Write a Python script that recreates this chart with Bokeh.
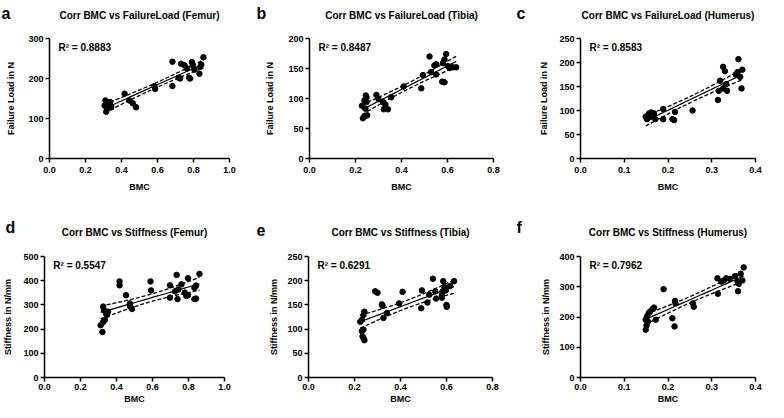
import numpy as np
from bokeh.plotting import figure
from bokeh.layouts import row, column
from bokeh.models import Range1d, FixedTicker, PrintfTickFormatter, Label, Title, LinearAxis
from bokeh.embed import file_html
from bokeh.resources import INLINE

FONT = "Liberation Sans"

# ---------------- data ----------------
femur_load_bmc = [0.306, 0.311, 0.315, 0.324, 0.330, 0.337, 0.343, 0.320, 0.417, 0.444, 0.463,
                  0.481, 0.583, 0.587, 0.683, 0.683, 0.717, 0.726, 0.731, 0.750, 0.763, 0.776,
                  0.781, 0.791, 0.796, 0.833, 0.837, 0.843, 0.855, 0.805]
femur_load = [132, 145, 117, 139, 128, 141, 128, 124, 162, 145, 138,
              128, 181, 174, 242, 181, 202, 200, 237, 233, 225, 202,
              200, 241, 233, 212, 229, 235, 253, 222]

tibia_load_bmc = [0.228, 0.232, 0.239, 0.243, 0.248, 0.248, 0.251, 0.239, 0.291, 0.300, 0.319,
                  0.323, 0.341, 0.355, 0.409, 0.486, 0.493, 0.522, 0.529, 0.543, 0.551, 0.551,
                  0.577, 0.587, 0.580, 0.587, 0.594, 0.601, 0.609, 0.623, 0.638, 0.245, 0.330]
tibia_load = [88, 67, 70, 83, 94, 102, 72, 97, 106, 99, 94,
              82, 82, 102, 120, 117, 139, 170, 144, 155, 157, 140,
              128, 127, 159, 165, 174, 154, 151, 152, 152, 105, 90]

humerus_load_bmc = [0.149, 0.152, 0.157, 0.160, 0.165, 0.168, 0.171, 0.162, 0.189, 0.189, 0.210,
                    0.214, 0.216, 0.256, 0.314, 0.316, 0.319, 0.326, 0.330, 0.326, 0.333, 0.335,
                    0.355, 0.359, 0.361, 0.365, 0.368, 0.370, 0.155, 0.163]
humerus_load = [87, 82, 94, 87, 90, 94, 82, 96, 103, 82, 82,
                80, 97, 100, 122, 141, 162, 191, 182, 146, 155, 141,
                175, 180, 207, 170, 146, 185, 90, 92]

femur_stiff_bmc = [0.312, 0.322, 0.326, 0.330, 0.335, 0.341, 0.348, 0.326, 0.353, 0.417, 0.417,
                   0.453, 0.475, 0.476, 0.486, 0.589, 0.592, 0.697, 0.697, 0.725, 0.734, 0.739,
                   0.743, 0.761, 0.779, 0.788, 0.797, 0.833, 0.842, 0.833, 0.842, 0.861, 0.797]
femur_stiff = [216, 188, 293, 279, 238, 265, 259, 229, 272, 397, 381,
               340, 306, 293, 283, 397, 360, 381, 330, 356, 424, 324,
               364, 385, 351, 337, 410, 370, 380, 324, 326, 428, 340]

tibia_stiff_bmc = [0.225, 0.232, 0.239, 0.243, 0.232, 0.235, 0.239, 0.243, 0.239, 0.290, 0.300,
                   0.319, 0.322, 0.326, 0.341, 0.394, 0.409, 0.490, 0.493, 0.517, 0.525, 0.541,
                   0.551, 0.555, 0.580, 0.583, 0.586, 0.591, 0.597, 0.600, 0.601, 0.616, 0.633, 0.580]
tibia_stiff = [115, 119, 129, 136, 96, 85, 81, 77, 99, 178, 175,
               151, 148, 123, 133, 153, 177, 143, 180, 155, 171, 204,
               178, 163, 170, 178, 199, 187, 180, 150, 146, 189, 199, 165]

humerus_stiff_bmc = [0.149, 0.151, 0.149, 0.152, 0.156, 0.159, 0.165, 0.168, 0.172, 0.154, 0.190,
                     0.210, 0.215, 0.216, 0.217, 0.257, 0.259, 0.313, 0.314, 0.322, 0.328, 0.333,
                     0.341, 0.353, 0.359, 0.360, 0.362, 0.366, 0.370, 0.373]
humerus_stiff = [158, 172, 191, 202, 213, 218, 227, 231, 191, 185, 292,
                 196, 169, 253, 245, 245, 234, 328, 277, 317, 321, 328,
                 326, 335, 317, 285, 310, 343, 321, 364]

letters = ["a", "b", "c", "d", "e", "f"]
titles = ["Corr BMC vs FailureLoad (Femur)", "Corr BMC vs FailureLoad (Tibia)",
          "Corr BMC vs FailureLoad (Humerus)", "Corr BMC vs Stiffness (Femur)",
          "Corr BMC vs Stiffness (Tibia)", "Corr BMC vs Stiffness (Humerus)"]
y_labels = ["Failure Load in N"] * 3 + ["Stiffness in N/mm"] * 3
x_label = "BMC"
r2_texts = ["R² = 0.8883", "R² = 0.8487", "R² = 0.8583", "R² = 0.5547", "R² = 0.6291", "R² = 0.7962"]
x_ticks = [[0.0, 0.2, 0.4, 0.6, 0.8, 1.0], [0.0, 0.2, 0.4, 0.6, 0.8], [0.0, 0.1, 0.2, 0.3, 0.4]] * 2
y_ticks = [[0, 100, 200, 300], [0, 50, 100, 150, 200], [0, 50, 100, 150, 200, 250],
           [0, 100, 200, 300, 400, 500], [0, 50, 100, 150, 200, 250], [0, 100, 200, 300, 400]]
xs_all = [femur_load_bmc, tibia_load_bmc, humerus_load_bmc, femur_stiff_bmc, tibia_stiff_bmc, humerus_stiff_bmc]
ys_all = [femur_load, tibia_load, humerus_load, femur_stiff, tibia_stiff, humerus_stiff]

# ---------------- layout (pixels) ----------------
# width, height, border left, right, top, bottom, y-label standoff, title standoff,
# letter x offset, letter standoff, tick-label standoff, x-label standoff
geo = [
    (254, 194, 49, 25, 38, 36, 9, 18, -48, -30, 4, 6),
    (256, 194, 55, 17, 38, 36, 10, 18, -53, -30, 4, 6),
    (252, 194, 70, 7, 38, 36, 7, 18, -64, -30, 4, 6),
    (254, 212, 40, 30, 62, 29, 7, 19, -39, -24, 2, 1),
    (256, 212, 54, 18, 62, 29, 5, 19, -52, -24, 2, 1),
    (252, 212, 70, 7, 62, 29, 5, 19, -64, -24, 2, 1),
]


def style_text_axis(ax):
    ax.axis_line_width = 1.5
    ax.axis_line_color = "black"
    ax.major_tick_line_width = 1.5
    ax.major_tick_line_color = "black"
    ax.major_tick_out = 4
    ax.major_tick_in = 0
    ax.minor_tick_line_color = None
    ax.major_label_text_font = FONT
    ax.major_label_text_font_style = "bold"
    ax.major_label_text_font_size = "9px"
    ax.major_label_text_color = "black"
    ax.axis_label_text_font = FONT
    ax.axis_label_text_font_style = "bold"
    ax.axis_label_text_font_size = "9px"
    ax.axis_label_text_color = "black"


def make(i):
    w, h, bl, br, bt, bb, ysd, tsd, lx, lsd, xls, xsd = geo[i]
    fw, fh = w - bl - br, h - bt - bb
    xt, yt = x_ticks[i], y_ticks[i]
    p = figure(width=w, height=h, min_border_left=bl, min_border_right=br,
               min_border_top=bt, min_border_bottom=bb, output_backend="svg",
               toolbar_location=None, x_range=Range1d(xt[0], xt[-1]),
               y_range=Range1d(yt[0], yt[-1]), outline_line_color=None,
               background_fill_color="white", border_fill_color="white")
    p.xgrid.visible = False
    p.ygrid.visible = False

    style_text_axis(p.xaxis[0])
    style_text_axis(p.yaxis[0])
    p.xaxis.ticker = FixedTicker(ticks=xt)
    p.xaxis.formatter = PrintfTickFormatter(format="%.1f")
    p.xaxis.axis_label = x_label
    p.xaxis.major_label_standoff = xls
    p.xaxis.axis_label_standoff = xsd

    p.yaxis.ticker = FixedTicker(ticks=yt)
    p.yaxis.formatter = PrintfTickFormatter(format="%d")
    p.yaxis.axis_label = y_labels[i]
    p.yaxis.major_label_standoff = 2
    p.yaxis.axis_label_standoff = ysd

    # chart title, centred over the plot area
    top = LinearAxis(ticker=FixedTicker(ticks=[]), axis_label=titles[i],
                     axis_line_color=None, major_tick_line_color=None,
                     minor_tick_line_color=None, major_tick_out=0, major_tick_in=0,
                     major_label_standoff=0, axis_label_standoff=tsd,
                     axis_label_text_font=FONT, axis_label_text_font_style="bold",
                     axis_label_text_font_size="10px", axis_label_text_color="black")
    p.add_layout(top, "above")
    # panel letter
    p.add_layout(Title(text=letters[i], align="left", offset=lx, standoff=lsd,
                       text_font=FONT, text_font_size="16px", text_font_style="bold",
                       text_color="black"), "above")

    x = np.array(xs_all[i], dtype=float)
    y = np.array(ys_all[i], dtype=float)
    n = len(x)
    b1, b0 = np.polyfit(x, y, 1)
    xl = np.linspace(x.min(), x.max(), 60)
    yl = b0 + b1 * xl
    resid = y - (b0 + b1 * x)
    s = np.sqrt(np.sum(resid ** 2) / (n - 2))
    xm = x.mean()
    sxx = np.sum((x - xm) ** 2)
    se = s * np.sqrt(1.0 / n + (xl - xm) ** 2 / sxx)
    t = 2.03
    p.line(xl, yl + t * se, line_color="black", line_width=1.3, line_dash="4 2")
    p.line(xl, yl - t * se, line_color="black", line_width=1.3, line_dash="4 2")
    p.line(xl, yl, line_color="white", line_width=3.0)
    p.line(xl, yl, line_color="black", line_width=1.2)
    p.scatter(x, y, size=5.5, fill_color="black", line_color="black", marker="circle")

    # R² label near the top-left corner of the plot area (data units)
    p.add_layout(Label(x=xt[-1] * 9.0 / fw, y=yt[-1] * (1.0 - 9.0 / fh),
                       text=r2_texts[i], text_font=FONT, text_font_size="10px",
                       text_font_style="bold", text_baseline="middle", text_color="black"))
    return p


figs = [make(i) for i in range(6)]
layout = column(row(*figs[:3]), row(*figs[3:]))
open("out.html", "w").write(file_html(layout, INLINE))
